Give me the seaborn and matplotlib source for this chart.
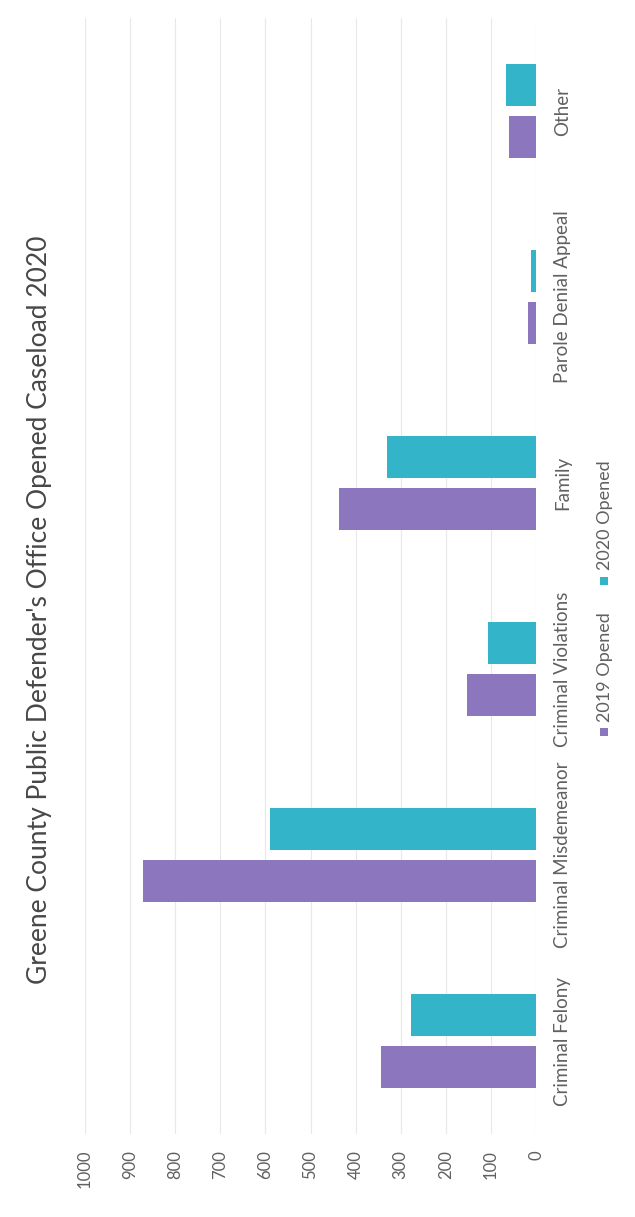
import matplotlib
matplotlib.use('Agg')
import matplotlib.pyplot as plt
from matplotlib.patches import Rectangle
import seaborn as sns
import pandas as pd

categories = ['Criminal Felony', 'Criminal Misdemeanor', 'Criminal Violations',
              'Family', 'Parole Denial Appeal', 'Other']
opened_2019 = [344, 872, 152, 437, 18, 60]
opened_2020 = [278, 589, 106, 331, 11, 66]
series = ['2019 Opened', '2020 Opened']
ticks = list(range(0, 1001, 100))
colors = ['#8c77bf', '#33b4c8']
title = "Greene County Public Defender's Office Opened Caseload 2020"

df = pd.DataFrame({
    'category': categories * 2,
    'series': [series[0]] * len(categories) + [series[1]] * len(categories),
    'value': opened_2019 + opened_2020,
})

W, H = 635, 1217
sns.set_theme(style='white')
plt.rcParams['font.family'] = ['Lato', 'DejaVu Sans']

fig = plt.figure(figsize=(W / 100, H / 100), dpi=100)
fig.patch.set_facecolor('white')
ax = fig.add_axes([85 / W, 83 / H, 451 / W, 1116 / H])

sns.barplot(data=df, y='category', x='value', hue='series', order=categories,
            hue_order=series, palette=colors, width=0.56, gap=0.21, orient='h',
            saturation=1, legend=False, linewidth=0, ax=ax)

# page is turned: values grow to the left, first category at the bottom
ax.set_xlim(1000, 0)
ax.set_ylim(-0.5, len(categories) - 0.5)
ax.set_xticks(ticks)
ax.set_xticklabels([str(t) for t in ticks])
ax.set_xlabel('')
ax.set_ylabel('')
ax.xaxis.grid(True, color='#e8e8e8', linewidth=0.8)
ax.set_axisbelow(True)
sns.despine(ax=ax, left=True, bottom=True, right=True, top=True)

ax.yaxis.tick_right()
ax.tick_params(axis='x', length=0, pad=11.5, labelsize=12, labelcolor='#606060')
ax.tick_params(axis='y', length=0, pad=13, labelsize=13.5, labelcolor='#606060')
for lab in ax.get_xticklabels():
    lab.set_rotation(90)
    lab.set_ha('center')
    lab.set_va('top')
for lab in ax.get_yticklabels():
    lab.set_rotation(90)
    lab.set_ha('left')
    lab.set_va('center')

fig.text(40 / W, 1 - 610 / H, title, rotation=90, ha='center', va='center',
         fontsize=19, color='#474747')

# legend, turned with the page
leg_items = [(series[0], colors[0], 736, 722), (series[1], colors[1], 585, 570)]
for label, col, sq_y, txt_y in leg_items:
    fig.add_artist(Rectangle((600 / W, 1 - sq_y / H), 8 / W, 8 / H,
                             transform=fig.transFigure, color=col, lw=0))
    fig.text(605 / W, 1 - txt_y / H, label, rotation=90, ha='center', va='bottom',
             fontsize=13, color='#606060')

fig.savefig('out.png', dpi=100)
